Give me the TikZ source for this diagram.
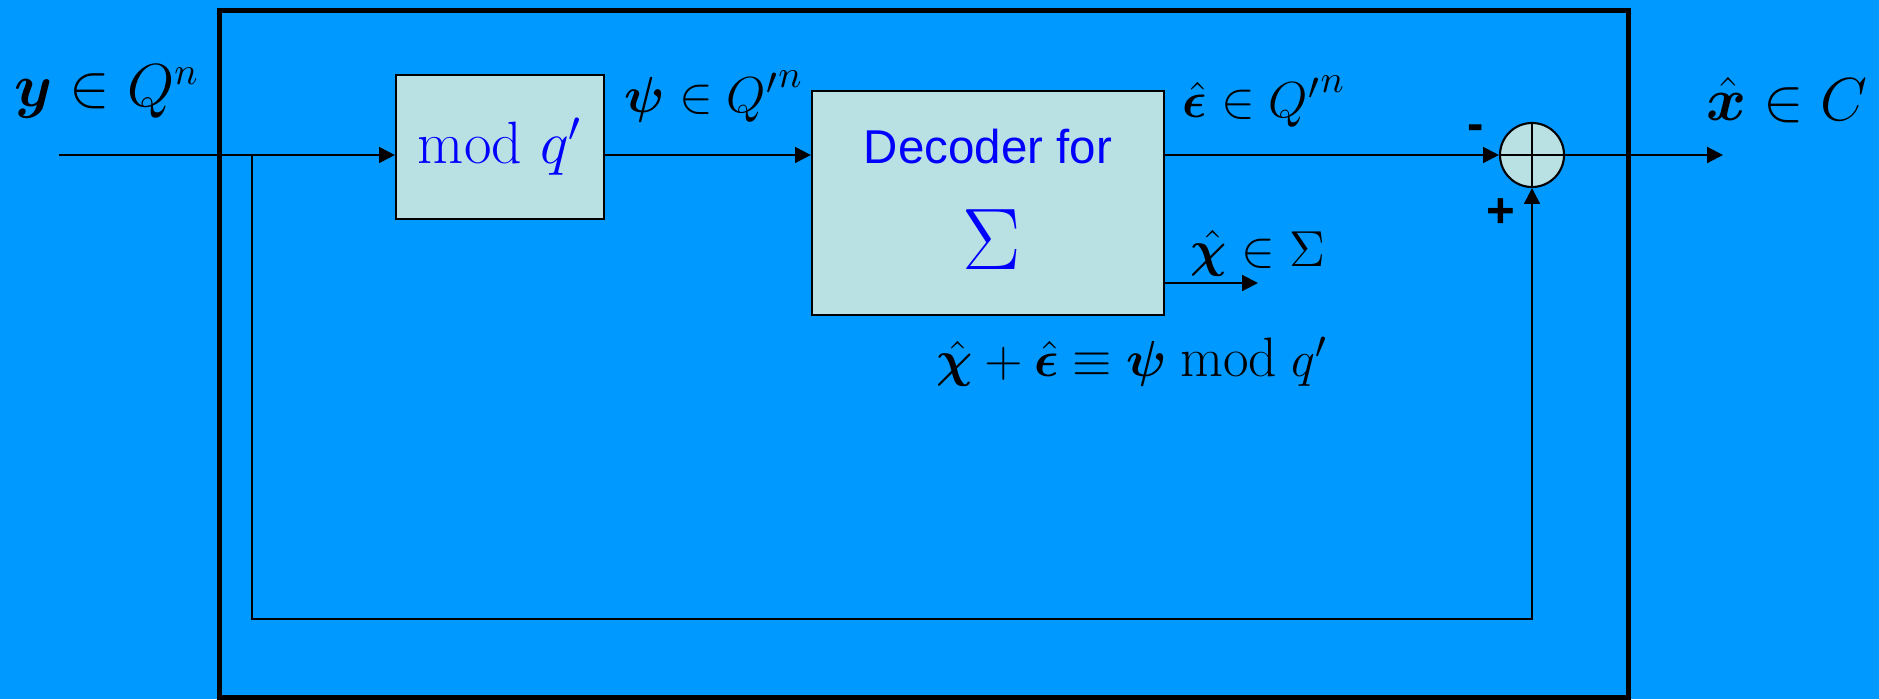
\documentclass[tikz,border=0pt]{standalone}
\usepackage{amsmath,bm}
\usepackage{fontspec}
\setsansfont{Liberation Sans}
\usetikzlibrary{positioning, arrows.meta, calc}
\definecolor{clrbg}{HTML}{0099FF}
\definecolor{clrblock}{HTML}{B9E0E3}
\definecolor{clrtext}{HTML}{0000FF}

\begin{document}
\begin{tikzpicture}[
    x=0.01cm, y=0.01cm,
    >={Triangle[length=4.5pt,width=4.5pt]},
    block/.style={draw=black, fill=clrblock, line width=0.6pt, inner sep=0pt},
    wire/.style={line width=0.6pt},
    arrow/.style={->, line width=0.6pt},
    mathlabel/.style={font=\fontsize{16}{19}\selectfont, text=black, inner sep=0pt},
    smalllabel/.style={mathlabel, font=\fontsize{15}{18}\selectfont},
    sign/.style={font=\sffamily\bfseries\fontsize{14}{16}\selectfont, inner sep=0pt},
]
\fill[clrbg] (0,0) rectangle (1879,699);
\useasboundingbox (0,0) rectangle (1879,699);
\node[draw=black, line width=1.4pt, minimum width=14.08cm, minimum height=6.86cm, inner sep=0pt] (frame) at (924,345) {};
\coordinate (in) at (59,544);
\coordinate (split) at (252,544);
\node[block, minimum width=2.08cm, minimum height=1.44cm, text=clrtext, font=\fontsize{17}{20}\selectfont] (modq) at (500,552) {$\mathrm{mod}\ q'$};
\node[block, minimum width=3.52cm, minimum height=2.24cm] (dec) at (988,496) {};
\node[font=\sffamily\fontsize{13.5}{16}\selectfont, text=clrtext] (dec_title) at (988,552) {Decoder for};
\node[font=\fontsize{25}{30}\selectfont, text=clrtext] (dec_sigma) at (992,459) {$\Sigma$};
\node[circle, draw=black, fill=clrblock, line width=0.6pt, minimum size=0.64cm, inner sep=0pt] (sum) at (1532,544) {};
\draw[wire] (sum.north) -- (sum.south);
\draw[wire] (sum.west) -- (sum.east);
\coordinate (out) at (1723,544);
\coordinate (chi_end) at (1258,416);
\coordinate (fb_corner) at (1532,80);
\draw[wire] (in) -- (split);
\draw[arrow] (split) -- (modq.west |- split);
\draw[arrow] (modq.east |- split) -- (dec.west |- split);
\draw[arrow] (dec.east |- split) -- (sum.west);
\draw[arrow] (sum.east) -- (out);
\draw[arrow] (dec.east |- chi_end) -- (chi_end);
\draw[arrow] (split) |- (fb_corner) -- (sum.south);
\node[mathlabel] (lbl_y) at (107,607) {$\bm{y}\in Q^n$};
\node[smalllabel] (lbl_psi) at (714,602) {$\bm{\psi}\in {Q'}^{n}$};
\node[smalllabel] (lbl_eps) at (1264,597) {$\bm{\hat{\epsilon}}\in {Q'}^{n}$};
\node[mathlabel] (lbl_x) at (1787,599) {$\bm{\hat{x}}\in C$};
\node[smalllabel] (lbl_chi) at (1258,446) {$\bm{\hat{\chi}}\in\Sigma$};
\node[mathlabel, font=\fontsize{15.8}{19}\selectfont] (lbl_eq) at (1132,337) {$\bm{\hat{\chi}}+\bm{\hat{\epsilon}}\equiv\bm{\psi}\bmod q'$};
\node[sign] (sign_minus) at (1476,566) {-};
\node[sign] (sign_plus) at (1501,486) {+};
\end{tikzpicture}
\end{document}
